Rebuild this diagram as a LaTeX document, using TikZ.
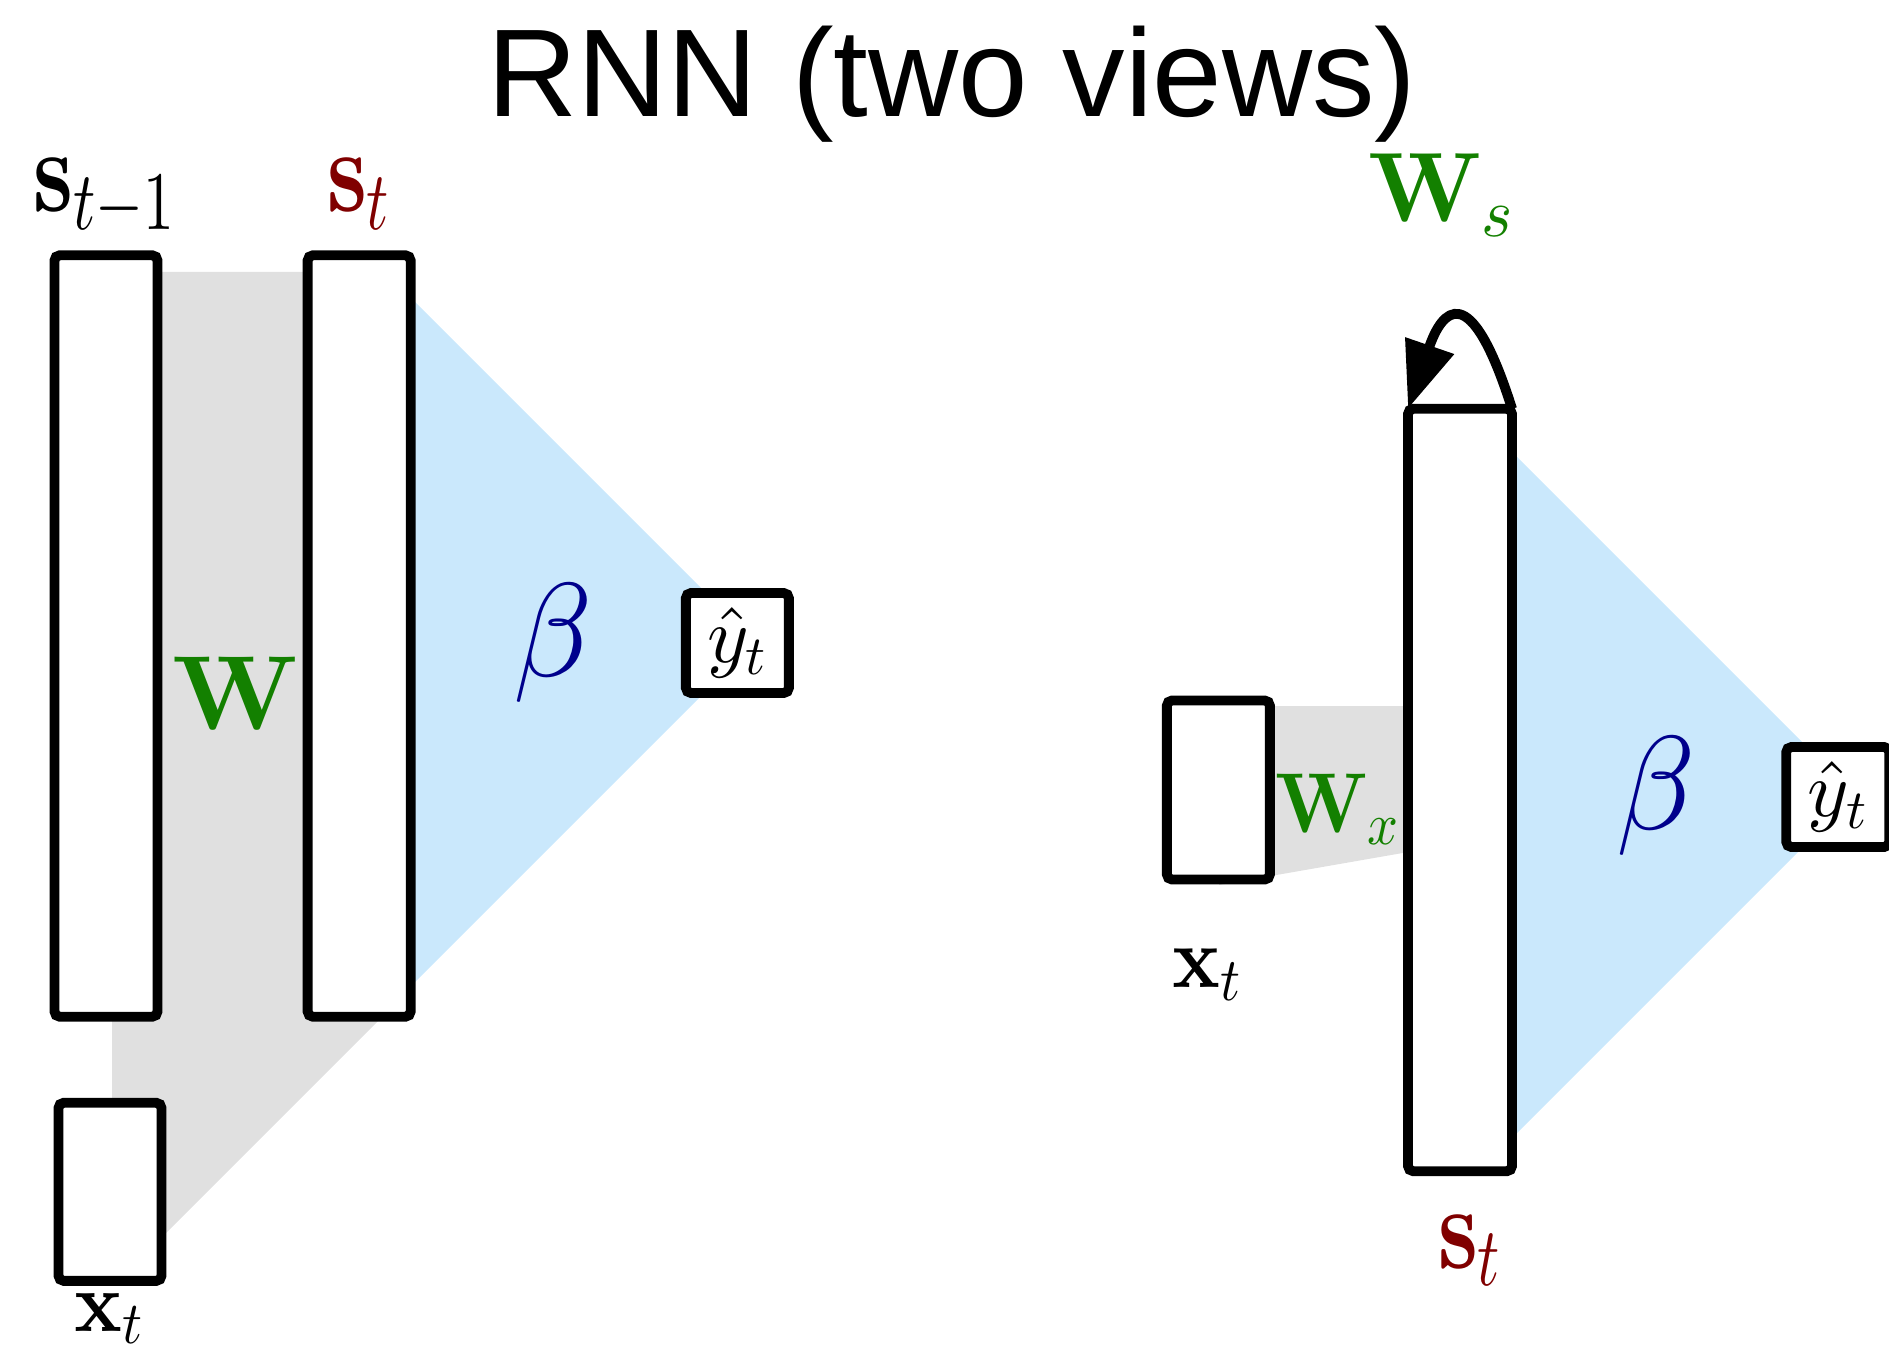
\RequirePackage{fix-cm}
\documentclass[tikz,border=0pt]{standalone}
\usepackage[no-math]{fontspec}
\usepackage{graphicx}
\usepackage{xcolor}
\usepackage{tikz}
\usetikzlibrary{arrows.meta, positioning}

\newfontfamily\titlefont{Liberation Sans}
% heavier 10pt designs for the big math labels
\DeclareFontShape{OML}{cmm}{m}{it}{<->cmmi10}{}
\DeclareFontShape{OT1}{cmr}{bx}{n}{<->cmbx10}{}
\DeclareFontShape{OT1}{cmr}{m}{n}{<->cmr10}{}
\DeclareFontShape{OMS}{cmsy}{m}{n}{<->cmsy10}{}

\definecolor{wfill}{RGB}{224,224,224}
\definecolor{bfill}{RGB}{202,232,252}
\definecolor{wgreen}{RGB}{19,128,0}
\definecolor{sred}{RGB}{128,0,0}
\definecolor{bblue}{RGB}{0,0,140}

\begin{document}
\begin{tikzpicture}[
        x=0.01cm, y=-0.01cm,
        node distance=1cm,
        unit/.style={draw, line width=2.8pt, rounded corners=1.5pt, fill=white, inner sep=0pt, outer sep=0pt, minimum width=1.03cm},
        lbl/.style={inner sep=0pt, anchor=base},
        >={Triangle[length=19pt, width=14pt]}
    ]
        \useasboundingbox (0,0) rectangle (1889,1349);

        % Shaded weights
        \fill[wfill] (112,272) -- (360,272) -- (382,1017) -- (166,1233) -- (112,1233) -- cycle;
        \fill[bfill] (390,277) -- (755,642) -- (390,1007) -- cycle;
        \fill[wfill] (1219,706) -- (1460,706) -- (1460,843) -- (1219,885) -- cycle;
        \fill[bfill] (1500,440) -- (1855,795) -- (1500,1150) -- cycle;

        % Unrolled view
        \node[unit, minimum height=7.61cm] (sPrev) at (106,636) {};
        \node[unit, minimum height=7.61cm, right=1.5cm of sPrev] (sL) {};
        \node[unit, minimum height=1.78cm, below=0.86cm of sPrev, xshift=0.04cm] (xL) {};
        \node[unit, minimum height=1cm, right=2.75cm of sL, yshift=-0.07cm, font=\fontsize{22.5}{26}\selectfont] (yL) {$\hat{y}_t$};

        % Recurrent view
        \node[unit, minimum height=7.62cm, minimum width=1.04cm] (sR) at (1460,790) {};
        \node[unit, minimum height=1.79cm, left=1.38cm of sR] (xR) {};
        \node[unit, minimum height=1cm, right=2.74cm of sR, yshift=-0.07cm, font=\fontsize{22.5}{26}\selectfont] (yR) {$\hat{y}_t$};

        % Self loop
        \draw[->, line width=2.8pt] (sR.north east) .. controls +(-42,-133) and +(34,-99) .. (sR.north west);

        % Title
        \node[lbl, font=\titlefont\fontsize{35.5}{40}\selectfont] (title) at (952,117) {RNN (two views)};

        % Labels
        \node[lbl, font=\fontsize{25}{30}\selectfont] (lsPrev) at (105,212) {\scalebox{1}[1.35]{$\mathbf{s}_{t-1}$}};
        \node[lbl, font=\fontsize{25}{30}\selectfont, text=sred] (lsL) at (359,212) {\scalebox{1}[1.35]{$\mathbf{s}_t$}};
        \node[lbl, font=\fontsize{30}{35}\selectfont, text=wgreen] (lW) at (236,729) {$\mathbf{W}$};
        \node[lbl, font=\fontsize{36.5}{42}\selectfont, text=bblue] (lbetaL) at (553,676) {\scalebox{1}[1.04]{$\beta$}};
        \node[lbl, font=\fontsize{22.5}{26}\selectfont] (lxL) at (109,1331) {\scalebox{1}[1.08]{$\mathbf{x}_t$}};

        \node[lbl, font=\fontsize{27}{32}\selectfont, text=wgreen] (lWs) at (1441,222) {\scalebox{1}[1.04]{$\mathbf{W}_s$}};
        \node[lbl, font=\fontsize{22}{26}\selectfont, text=wgreen] (lWx) at (1338,832) {\scalebox{1}[1.1]{$\mathbf{W}_x$}};
        \node[lbl, font=\fontsize{22.5}{26}\selectfont] (lxR) at (1207,987) {\scalebox{1}[1.1]{$\mathbf{x}_t$}};
        \node[lbl, font=\fontsize{36.5}{42}\selectfont, text=bblue] (lbetaR) at (1656,829) {\scalebox{1}[1.04]{$\beta$}};
        \node[lbl, font=\fontsize{25}{30}\selectfont, text=sred] (lsR) at (1470,1268) {\scalebox{1}[1.35]{$\mathbf{s}_t$}};
    \end{tikzpicture}
\end{document}
